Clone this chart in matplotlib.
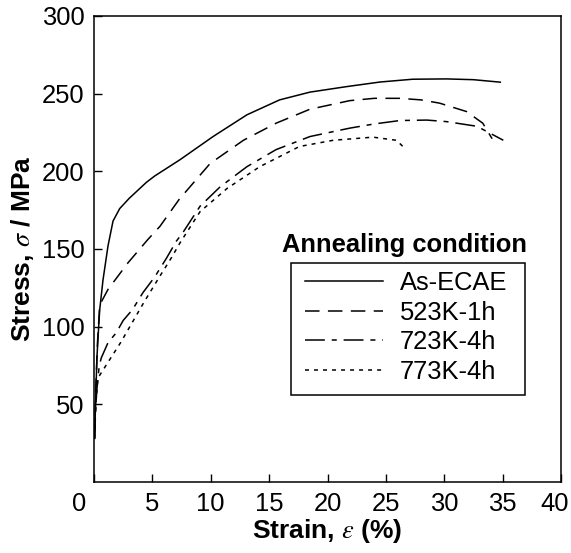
import matplotlib
matplotlib.use("Agg")
import matplotlib.pyplot as plt
import matplotlib.transforms as mtransforms
from matplotlib.patches import Rectangle

plt.rcParams['font.family'] = ['Liberation Sans', 'DejaVu Sans']
plt.rcParams['mathtext.fontset'] = 'stix'

# Data (strain %, stress MPa)
ecae_x = [0.05, 0.15, 0.25, 0.40, 0.49, 0.77, 1.2, 1.63, 2.2, 3.0, 4.5, 5.2, 7.37, 10.2, 13.1, 15.9, 18.5, 21.6, 24.5, 27.3, 30.2, 32.5, 34.8]
ecae_y = [28, 55, 80, 100, 111, 130, 152, 168, 176, 182.5, 193, 197, 207.5, 222.4, 236.4, 246, 251, 254.5, 257.5, 259.3, 259.5, 259, 257.4]

k523_x = [0.05, 0.15, 0.3, 0.49, 1.2, 2.9, 4.6, 5.65, 7.3, 9.94, 12.8, 15.6, 18.5, 21.9, 24.0, 26.2, 28.0, 29.6, 31.9, 33.3, 34.1]
k523_y = [28, 60, 90, 114, 124, 141, 156, 164.6, 182, 205, 220, 231, 240, 245.5, 247, 247, 246, 243.9, 238.5, 231, 221]

k723_x = [0.05, 0.15, 0.25, 0.45, 0.63, 1.2, 1.9, 2.5, 3.3, 4.2, 5.2, 6.2, 7.05, 7.65, 9.08, 10.8, 13.1, 15.6, 18.5, 21.9, 24.0, 26.2, 28.5, 30.2, 32.8, 35.06]
k723_y = [28, 48, 60, 75, 80, 89.7, 96, 104, 111, 122, 132, 144, 155, 161, 177.5, 190, 203, 214, 222.4, 227.8, 230.5, 232.7, 233, 232, 229, 220]

k773_x = [0.05, 0.12, 0.2, 0.34, 2.3, 4.3, 5.6, 6.6, 7.37, 9.08, 11.4, 14.2, 17.6, 20.5, 23.9, 25.9, 26.6]
k773_y = [28, 45, 55, 67, 90, 116, 132, 144, 154, 174, 189, 203, 216, 220, 222, 220, 215]

labels = ['As-ECAE', '523K-1h', '723K-4h', '773K-4h']
xticks = [0, 5, 10, 15, 20, 25, 30, 35, 40]
yticks = [50, 100, 150, 200, 250, 300]

FS = 18.4
W, H = 571, 553

fig = plt.figure(figsize=(W/100, H/100), dpi=100)
ax = fig.add_axes([94/W, 1-482/H, (561-94)/W, (482-16)/H])

lw = 1.1
ax.plot(ecae_x, ecae_y, color='black', lw=lw, label=labels[0])
ax.plot(k523_x, k523_y, color='black', lw=lw, dashes=(9.5, 5.5), label=labels[1])
ax.plot(k723_x, k723_y, color='black', lw=lw, dashes=(13, 4.5, 3.3, 4.5), label=labels[2])
ax.plot(k773_x, k773_y, color='black', lw=lw, dashes=(2.6, 3.3), label=labels[3])

ax.set_xlim(0, 40)
ax.set_ylim(0, 300)
ax.set_xticks(xticks)
ax.set_yticks(yticks)
ax.tick_params(direction='in', length=6, width=1, labelsize=FS, top=False, right=False, pad=7)
for s in ax.spines.values():
    s.set_linewidth(1.1)

# shift first and last x labels as in the reference
xl = ax.get_xticklabels()
for lab, dx in ((xl[0], -15), (xl[-1], -6)):
    off = mtransforms.ScaledTranslation(dx/100, 0, fig.dpi_scale_trans)
    lab.set_transform(lab.get_transform() + off)

ax.set_xlabel(r'Strain, $\varepsilon$ (%)', fontsize=19, fontweight='bold', labelpad=1)
ax.set_ylabel(r'Stress, $\sigma$ / MPa', fontsize=19, fontweight='bold', labelpad=4)

leg = ax.legend(loc='upper left', bbox_to_anchor=(305/W, 1-271/H), bbox_transform=fig.transFigure,
                fontsize=FS, frameon=False, handlelength=3.05, handletextpad=0.66,
                borderpad=0, labelspacing=0.22, borderaxespad=0)

# legend box (only around the entries, title sits above it)
fig.patches.append(Rectangle((291/W, 1-395/H), (525-291)/W, (395-263)/H,
                             transform=fig.transFigure, fill=False, edgecolor='black', lw=1.1))

fig.text(405/W, 1-245/H, 'Annealing condition', fontsize=FS, fontweight='bold',
         ha='center', va='center')

fig.savefig('out.png', dpi=100)
